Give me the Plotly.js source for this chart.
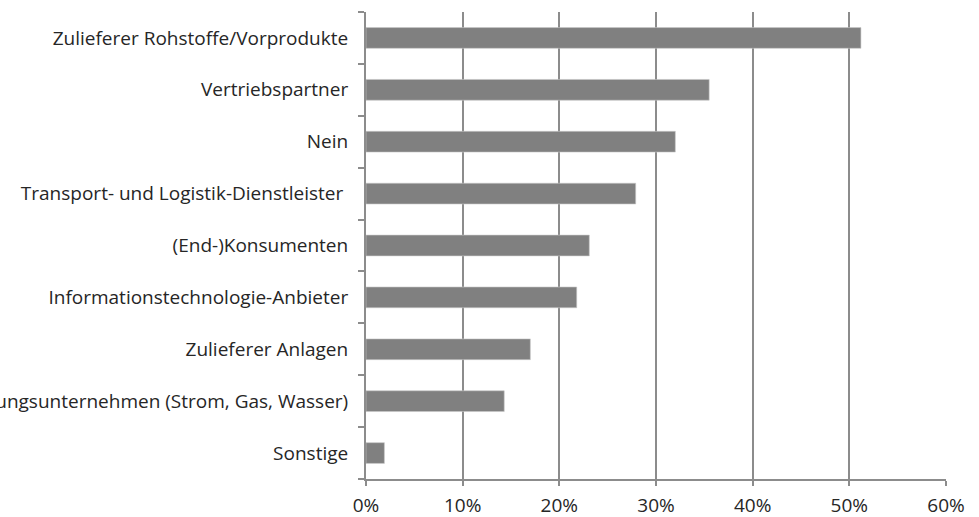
<!DOCTYPE html>
<html>
<head>
<meta charset="utf-8">
<script src="https://cdn.plot.ly/plotly-3.0.1.min.js"></script>
<style>
  html, body { margin: 0; padding: 0; background: #fff; }
  #chart { width: 979px; height: 517px; }
</style>
</head>
<body>
<div id="chart"></div>
<script>
// categories listed bottom to top, as plotly draws them
const categories = [
    'Sonstige',
    'Versorgungsunternehmen (Strom, Gas, Wasser)',
    'Zulieferer Anlagen',
    'Informationstechnologie-Anbieter',
    '(End-)Konsumenten',
    'Transport- und Logistik-Dienstleister\u00a0',
    'Nein',
    'Vertriebspartner',
    'Zulieferer Rohstoffe/Vorprodukte'
];
const shares = [0.019, 0.143, 0.170, 0.218, 0.231, 0.279, 0.320, 0.355, 0.512];
const tickVals = [0, 0.1, 0.2, 0.3, 0.4, 0.5, 0.6];
const tickText = ['0%', '10%', '20%', '30%', '40%', '50%', '60%'];

var trace1 = {
    type: 'bar',
    orientation: 'h',
    x: shares,
    y: categories,
    marker: {
        color: '#808080',
        line: { color: '#c8c8c8', width: 0.6 }
    },
    hoverinfo: 'x+y'
};

var layout = {
    width: 979,
    height: 517,
    margin: { l: 366, r: 33, t: 12, b: 38 },
    paper_bgcolor: '#fff',
    plot_bgcolor: '#fff',
    showlegend: false,
    bargap: 0.6,
    font: { family: 'Open Sans, sans-serif', size: 19, color: '#262626' },
    xaxis: {
        range: [0, 0.6],
        tickvals: tickVals,
        ticktext: tickText,
        showgrid: true,
        gridcolor: '#8c8c8c',
        gridwidth: 2,
        zeroline: false,
        showline: true,
        linecolor: '#8c8c8c',
        linewidth: 2,
        ticks: 'outside',
        ticklen: 5,
        tickwidth: 2,
        tickcolor: '#8c8c8c',
        ticklabelstandoff: 3,
        fixedrange: true
    },
    yaxis: {
        type: 'category',
        showgrid: false,
        zeroline: false,
        showline: true,
        linecolor: '#8c8c8c',
        linewidth: 2,
        ticks: 'outside',
        tickson: 'boundaries',
        ticklen: 6,
        tickwidth: 2,
        tickcolor: '#8c8c8c',
        ticklabelstandoff: 12,
        automargin: false,
        fixedrange: true
    }
};

Plotly.newPlot('chart', [trace1], layout, { displayModeBar: false, staticPlot: true });
</script>
</body>
</html>
